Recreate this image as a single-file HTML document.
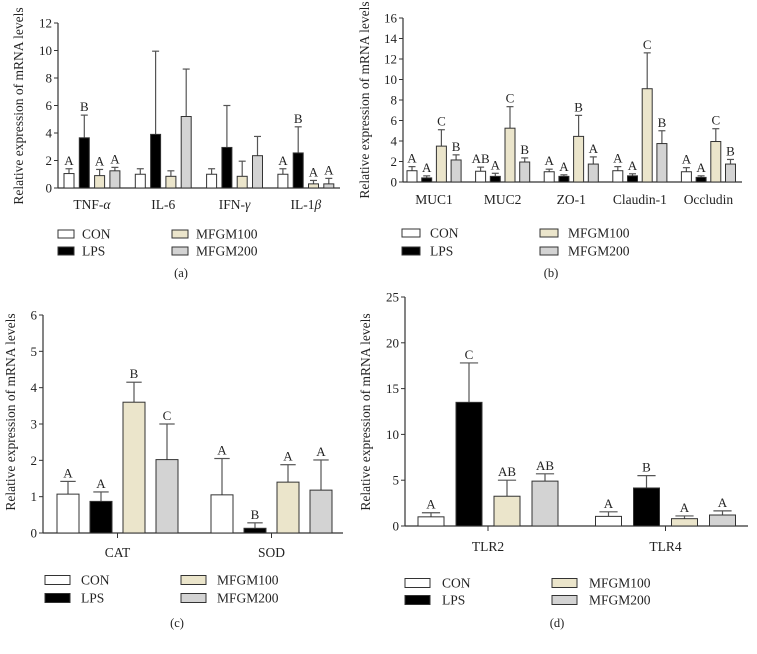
<!DOCTYPE html>
<html><head><meta charset="utf-8"><style>
body{margin:0;background:#fff;width:757px;height:649px;overflow:hidden}
svg{font-family:"Liberation Serif",serif;}
</style></head><body>
<svg id="chart" width="757" height="649" viewBox="0 0 757 649" xmlns="http://www.w3.org/2000/svg"></svg>
<script>
const groups = ["CON","LPS","MFGM100","MFGM200"];
const colors = ["#ffffff","#000000","#ebe5cb","#d3d3d3"];

const catsA = ["TNF-α","IL-6","IFN-γ","IL-1β"];
const meanA = [[1.05,3.65,0.9,1.25],[1.0,3.9,0.85,5.2],[1.0,2.95,0.85,2.35],[1.0,2.55,0.3,0.3]];
const errA = [[0.35,1.65,0.45,0.25],[0.4,6.05,0.4,3.45],[0.4,3.05,1.1,1.4],[0.4,1.9,0.25,0.4]];
const letA = [["A","B","A","A"],["","","",""],["","","",""],["A","B","A","A"]];
const ticksA = [0,2,4,6,8,10,12];

const catsB = ["MUC1","MUC2","ZO-1","Claudin-1","Occludin"];
const meanB = [[1.1,0.4,3.5,2.15],[1.05,0.55,5.25,1.95],[1.0,0.55,4.45,1.75],[1.1,0.6,9.1,3.75],[1.0,0.45,3.95,1.75]];
const errB = [[0.4,0.2,1.6,0.5],[0.4,0.3,2.1,0.4],[0.25,0.15,2.05,0.7],[0.4,0.2,3.5,1.25],[0.4,0.15,1.25,0.45]];
const letB = [["A","A","C","B"],["AB","A","C","B"],["A","A","B","A"],["A","A","C","B"],["A","A","C","B"]];
const ticksB = [0,2,4,6,8,10,12,14,16];

const catsC = ["CAT","SOD"];
const meanC = [[1.07,0.87,3.6,2.02],[1.05,0.13,1.4,1.18]];
const errC = [[0.35,0.26,0.55,0.98],[1.0,0.15,0.48,0.83]];
const letC = [["A","A","B","C"],["A","B","A","A"]];
const ticksC = [0,1,2,3,4,5,6];

const catsD = ["TLR2","TLR4"];
const meanD = [[1.0,13.5,3.25,4.9],[1.05,4.15,0.8,1.2]];
const errD = [[0.45,4.3,1.75,0.8],[0.5,1.35,0.3,0.45]];
const letD = [["A","C","AB","AB"],["A","B","A","A"]];
const ticksD = [0,5,10,15,20,25];

const NS="http://www.w3.org/2000/svg";
const svg=document.getElementById('chart');
function mk(tag,attrs,parent){const e=document.createElementNS(NS,tag);for(const k in attrs)e.setAttribute(k,attrs[k]);(parent||svg).appendChild(e);return e;}

function setCatText(el,c){
  const m=c.match(/^(.*?)([αβγ])$/);
  if(m){el.textContent=m[1];const ts=document.createElementNS(NS,'tspan');ts.setAttribute('font-style','italic');ts.textContent=m[2];el.appendChild(ts);}
  else el.textContent=c;
}

function panel(p){
  const g=mk('g',{});
  
  
  const max=p.ticks[p.ticks.length-1];
  const y=v=>p.y0-(v/max)*(p.y0-p.yTop);
  const ax=mk('line',{x1:p.ax,y1:p.yTop,x2:p.ax,y2:p.y0,stroke:'#333','stroke-width':1.2},g);
  
  
  const xa=mk('line',{x1:p.ax,y1:p.y0,x2:p.xEnd,y2:p.y0,stroke:'#333','stroke-width':1.2},g);
  
  
  p.ticks.forEach(t=>{
    mk('line',{x1:p.ax-4,y1:y(t),x2:p.ax,y2:y(t),stroke:'#333'},g);
    const tl=mk('text',{x:p.ax-6,y:y(t)+4.5,'font-size':13,'text-anchor':'end',fill:'#222'},g);
    tl.textContent=t;
    
    
  });
  const yl=mk('text',{x:0,y:0,'font-size':13.5,'text-anchor':'middle',fill:'#222',transform:`translate(${p.ylx},${p.yly}) rotate(-90)`},g);
  yl.textContent='Relative expression of mRNA levels';
  
  
  p.cats.forEach((c,ci)=>{
    const gx=p.gx0+ci*p.gstep;
    const center=gx+(3*p.step+p.bw)/2;
    if(p.catTick) mk('line',{x1:center,y1:p.y0,x2:center,y2:p.y0+5,stroke:'#333'},g);
    const cl=mk('text',{x:center,y:p.labY,'font-size':13.5,'text-anchor':'middle',fill:'#222'},g);
    setCatText(cl,c);
    
    
    p.mean[ci].forEach((m,si)=>{
      const bx=gx+si*p.step, top=y(m), et=y(m+p.err[ci][si]), cx=bx+p.bw/2;
      mk('line',{x1:cx,y1:top,x2:cx,y2:et,stroke:'#555','stroke-width':1.2},g);
      mk('line',{x1:cx-p.bw*0.35,y1:et,x2:cx+p.bw*0.35,y2:et,stroke:'#555','stroke-width':1.2},g);
      const r=mk('rect',{x:bx,y:top,width:p.bw,height:p.y0-top,fill:colors[si],stroke:'#333','stroke-width':1},g);
      
      
      const L=p.lets[ci][si];
      if(L){const lt=mk('text',{x:cx,y:et-4,'font-size':13,'text-anchor':'middle',fill:'#222'},g);
        lt.textContent=L;
        
        }
    });
  });
  groups.forEach((gn,i)=>{
    const lx=i<2?p.lgx1:p.lgx2, ly=p.lgy+(i%2)*p.lgdy;
    const b=mk('rect',{x:lx,y:ly-p.bh/2,width:p.bwL,height:p.bh,fill:colors[i],stroke:'#333'},g);
    
    
    const t=mk('text',{x:lx+p.bwL+p.tgap,y:ly+4.5,'font-size':13.5,fill:'#222'},g);
    t.textContent=gn;
    
    
  });
  const cap=mk('text',{x:p.capx,y:p.capy,'font-size':12.5,'text-anchor':'middle',fill:'#222'},g);
  cap.textContent='('+p.id+')';
  
  
}

panel({id:'a',cats:catsA,mean:meanA,err:errA,lets:letA,ticks:ticksA,ax:58,y0:188,yTop:23,xEnd:340,
  gx0:64,gstep:71.3,step:15.3,bw:10,labY:209,catTick:false,ylx:23,yly:106,
  lgx1:58,lgx2:172,lgy:234,lgdy:17,bwL:16,bh:8,tgap:8,capx:181,capy:277});
panel({id:'b',cats:catsB,mean:meanB,err:errB,lets:letB,ticks:ticksB,ax:403,y0:182,yTop:18,xEnd:742,
  gx0:407,gstep:68.6,step:14.7,bw:10,labY:204,catTick:false,ylx:369,yly:100,
  lgx1:402,lgx2:540,lgy:233,lgdy:18,bwL:18,bh:8,tgap:10,capx:551,capy:277});
panel({id:'c',cats:catsC,mean:meanC,err:errC,lets:letC,ticks:ticksC,ax:43,y0:533,yTop:315,xEnd:343,
  gx0:57,gstep:154,step:33,bw:22,labY:557,catTick:true,ylx:15,yly:412,
  lgx1:45,lgx2:181,lgy:580,lgdy:18,bwL:25,bh:9,tgap:11,capx:177,capy:627});
panel({id:'d',cats:catsD,mean:meanD,err:errD,lets:letD,ticks:ticksD,ax:405,y0:526,yTop:297,xEnd:748,
  gx0:418,gstep:177.5,step:38,bw:26,labY:551,catTick:true,ylx:370,yly:412,
  lgx1:405,lgx2:552,lgy:583,lgdy:17,bwL:25,bh:9,tgap:12,capx:557,capy:627});
</script>
</body></html>
